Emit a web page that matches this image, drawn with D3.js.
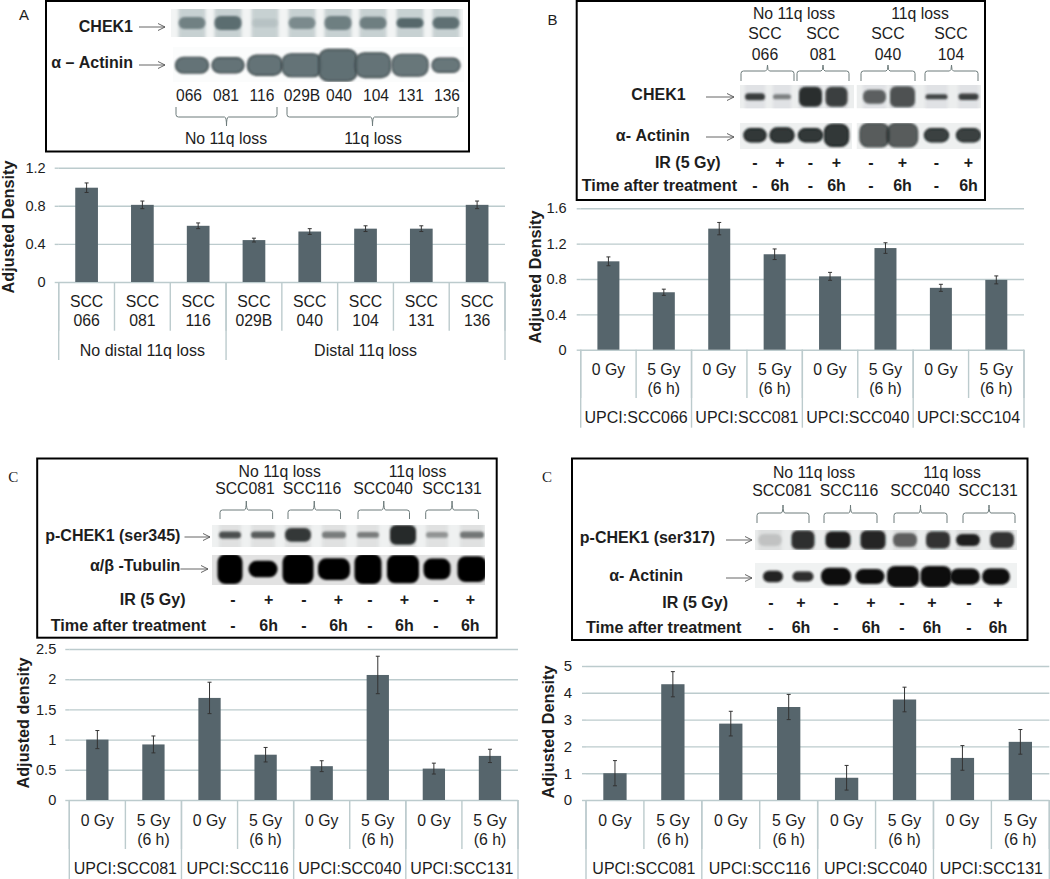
<!DOCTYPE html>
<html><head><meta charset="utf-8">
<script src="https://cdn.jsdelivr.net/npm/d3@7/dist/d3.min.js"></script>
<style>
html,body{margin:0;padding:0;background:#fff}
svg{display:block}
text{font-family:"Liberation Sans",Arial,sans-serif;fill:#1d1d1d}
</style></head><body>
<svg id="fig" width="1050" height="879"></svg>
<script>
// ---------- chart data ----------
const catsA=["SCC 066","SCC 081","SCC 116","SCC 029B","SCC 040","SCC 104","SCC 131","SCC 136"];
const groupsA=["No distal 11q loss","Distal 11q loss"];
const groupSizesA=[3,5];
const valuesA=[0.99,0.81,0.59,0.44,0.53,0.56,0.56,0.81];
const errorsA=[0.05,0.04,0.03,0.02,0.03,0.03,0.03,0.04];
const ticksA=[0,0.4,0.8,1.2];

const catsDose=["0 Gy","5 Gy (6 h)","0 Gy","5 Gy (6 h)","0 Gy","5 Gy (6 h)","0 Gy","5 Gy (6 h)"];
const groupSizesDose=[2,2,2,2];
const groupsB=["UPCI:SCC066","UPCI:SCC081","UPCI:SCC040","UPCI:SCC104"];
const valuesB=[1.0,0.65,1.37,1.08,0.83,1.15,0.70,0.79];
const errorsB=[0.05,0.035,0.07,0.06,0.045,0.06,0.04,0.045];
const ticksB=[0,0.4,0.8,1.2,1.6];

const groupsC=["UPCI:SCC081","UPCI:SCC116","UPCI:SCC040","UPCI:SCC131"];
const valuesC1=[1.0,0.92,1.69,0.75,0.56,2.07,0.52,0.73];
const errorsC1=[0.15,0.14,0.26,0.12,0.09,0.31,0.09,0.11];
const ticksC1=[0,0.5,1,1.5,2,2.5];
const valuesC2=[1.0,4.32,2.85,3.47,0.83,3.75,1.57,2.17];
const errorsC2=[0.47,0.47,0.46,0.47,0.46,0.46,0.46,0.46];
const ticksC2=[0,1,2,3,4,5];

// blot band darkness and relative height / width per lane
const blotA1Dark=[.7,.88,.12,.62,.72,.72,.92,.85];
const blotA1H=[.42,.5,.3,.42,.5,.45,.35,.42];
const blotA2Dark=[.95,.95,.95,.95,.97,.95,.92,.92];
const blotA2H=[.45,.43,.57,.65,.9,.7,.62,.4];
const blotA2W=[33,32,35,40,38,35,36,28];
const blotB1Dark=[.92,.55,1,.9,.72,.8,.88,.9];
const blotB1H=[.3,.22,.85,.85,.6,.9,.22,.28];
const blotB1W=[20,18,23,22,23,25,22,20];
const blotB2Dark=[1,1,1,1,.8,.8,.95,.95];
const blotB2H=[.5,.55,.5,.85,.9,.9,.5,.5];
const blotB2W=[22,24,24,24,29,30,24,24];
const blotC11Dark=[.8,.72,.92,.55,.55,1,.42,.58];
const blotC11H=[.32,.3,.62,.3,.26,.9,.26,.3];
const blotC11W=[22,24,26,24,22,26,22,24];
const blotC12Dark=[1,1,1,1,1,1,1,1];
const blotC12H=[1,.55,1,.72,1,.95,.7,.86];
const blotC12W=[25,29,31,32,27,32,27,29];
const blotC21Dark=[.14,.9,1,.95,.65,.88,.98,.88];
const blotC21H=[.6,.95,.85,.95,.7,.85,.6,.8];
const blotC21W=[24,23,25,25,24,24,24,24];
const blotC22Dark=[.9,.85,1,1,1,1,1,1];
const blotC22H=[.46,.4,.7,.6,.85,.85,.65,.65];
const blotC22W=[20,21,30,29,32,31,30,28];

const mk=["-","+","-","+","-","+","-","+"];
const tm=["-","6h","-","6h","-","6h","-","6h"];

// ---------- helpers ----------
const svg=d3.select("#fig");
const defs=svg.append("defs");
const blur=defs.append("filter").attr("id","soft").attr("x","-30%").attr("y","-60%").attr("width","160%").attr("height","220%");
blur.append("feGaussianBlur").attr("stdDeviation",1);
const blur2=defs.append("filter").attr("id","softer").attr("x","-30%").attr("y","-60%").attr("width","160%").attr("height","220%");
blur2.append("feGaussianBlur").attr("stdDeviation",1.8);
let clipN=0;

const GRID="#bccbcd", BAR="#56656c", ERR="#333", FS=15.8;

function chart(o){
  const g=svg.append("g");
  const y=d3.scaleLinear().domain([0,o.ticks[o.ticks.length-1]]).range([o.y0,o.y1]);
  const x=d3.scaleBand().domain(d3.range(o.cats.length)).range([o.x0,o.x1]);
  const ax=g.append("g").attr("transform",`translate(${o.x0},0)`)
    .call(d3.axisLeft(y).tickValues(o.ticks).tickSize(4).tickPadding(o.pad).tickFormat(d=>String(d)));
  ax.select(".domain").remove();
  ax.selectAll(".tick line").attr("stroke",GRID).attr("stroke-width",1.4);
  ax.selectAll(".tick").append("line").attr("x1",0).attr("x2",o.x1-o.x0).attr("stroke",GRID).attr("stroke-width",1.4);
  ax.selectAll("text").attr("font-size",o.tickSize||14.6).attr("fill","#1d1d1d").style("font-family",'"Liberation Sans"');
  const bot=o.yGroupEnd, mid=o.yTickEnd;
  g.selectAll(".sep").data(d3.range(o.cats.length+1)).join("line")
    .attr("x1",i=>o.x0+i*x.step()).attr("x2",i=>o.x0+i*x.step())
    .attr("y1",o.y0).attr("y2",mid).attr("stroke",GRID).attr("stroke-width",1.4);
  let c=0; const bounds=[0];
  o.groupSizes.forEach(s=>{c+=s;bounds.push(c);});
  g.selectAll(".gsep").data(bounds).join("line")
    .attr("x1",i=>o.x0+i*x.step()).attr("x2",i=>o.x0+i*x.step())
    .attr("y1",o.y0).attr("y2",bot).attr("stroke",GRID).attr("stroke-width",1.4);
  const bw=o.barW;
  g.selectAll(".bar").data(o.values).join("rect")
    .attr("x",(d,i)=>x(i)+x.bandwidth()/2-bw/2).attr("width",bw)
    .attr("y",d=>y(d)).attr("height",d=>y(0)-y(d)).attr("fill",BAR);
  const eb=g.selectAll(".eb").data(o.values).join("g")
    .attr("transform",(d,i)=>`translate(${x(i)+x.bandwidth()/2},0)`)
    .attr("stroke",ERR).attr("stroke-width",1);
  eb.append("line").attr("y1",(d,i)=>y(d-o.errors[i])).attr("y2",(d,i)=>y(d+o.errors[i]));
  eb.append("line").attr("x1",-2).attr("x2",2).attr("y1",(d,i)=>y(d-o.errors[i])).attr("y2",(d,i)=>y(d-o.errors[i]));
  eb.append("line").attr("x1",-2).attr("x2",2).attr("y1",(d,i)=>y(d+o.errors[i])).attr("y2",(d,i)=>y(d+o.errors[i]));
  const lab=g.selectAll(".cat").data(o.cats).join("text")
    .attr("text-anchor","middle").attr("font-size",FS)
    .attr("x",(d,i)=>x(i)+x.bandwidth()/2).attr("y",o.yLab1);
  lab.each(function(d){
    const t=d3.select(this),m=d.match(/^(.*?) (\(6 h\)|\d.*)$/);
    if(d==="0 Gy"||!m){t.text(d);return;}
    t.append("tspan").text(m[1]);
    t.append("tspan").attr("x",t.attr("x")).attr("dy",o.yLab2-o.yLab1).text(m[2]);
  });
  c=0;
  o.groups.forEach((name,k)=>{
    const a=c; c+=o.groupSizes[k];
    g.append("text").attr("text-anchor","middle").attr("font-size",16)
      .attr("x",o.x0+(a+c)/2*x.step()).attr("y",o.yGroup).text(name);
  });
  g.append("text").attr("transform",`translate(${o.titleX},${o.titleY}) rotate(-90)`)
    .attr("text-anchor","middle").attr("font-size",16.3).attr("font-weight","bold").text(o.title);
}

function txt(x,y,s,opt={}){
  const t=svg.append("text").attr("x",x).attr("y",y).text(s)
    .attr("font-size",opt.size||16).attr("text-anchor",opt.anchor||"middle");
  if(opt.bold)t.attr("font-weight","bold");
  if(opt.serif)t.style("font-family",'"Liberation Serif"');
  return t;
}
function frame(x0,y0,x1,y1){
  svg.append("rect").attr("x",x0).attr("y",y0).attr("width",x1-x0).attr("height",y1-y0)
    .attr("fill","none").attr("stroke","#000").attr("stroke-width",2);
}
function arrow(x0,x1,y){
  const p=d3.path();p.moveTo(x0,y);p.lineTo(x1,y);p.moveTo(x1-7,y-3.5);p.lineTo(x1,y);p.lineTo(x1-7,y+3.5);
  svg.append("path").attr("d",p.toString()).attr("fill","none").attr("stroke","#555").attr("stroke-width",.9);
}
function brace(x0,x1,yEdge,yBar,yTip){
  const dir=yEdge>yBar?1:-1, r=2.5, mx=(x0+x1)/2;
  const p=d3.path();
  p.moveTo(x0,yEdge);p.lineTo(x0,yBar+dir*r);p.quadraticCurveTo(x0,yBar,x0+r,yBar);
  p.lineTo(mx-2,yBar);p.quadraticCurveTo(mx,yBar,mx,yTip);p.quadraticCurveTo(mx,yBar,mx+2,yBar);
  p.lineTo(x1-r,yBar);p.quadraticCurveTo(x1,yBar,x1,yBar+dir*r);p.lineTo(x1,yEdge);
  svg.append("path").attr("d",p.toString()).attr("fill","none").attr("stroke","#6d7b7b").attr("stroke-width",1);
}
function blot(o){
  const id="clip"+(clipN++);
  const cp=defs.append("clipPath").attr("id",id);
  o.segs.forEach(s=>cp.append("rect").attr("x",s[0]).attr("y",o.y0).attr("width",s[1]-s[0]).attr("height",o.y1-o.y0));
  const g=svg.append("g").attr("clip-path",`url(#${id})`);
  const h=o.y1-o.y0, cy=o.y0+h*(o.c===undefined?.5:o.c);
  o.segs.forEach(s=>g.append("rect").attr("x",s[0]).attr("y",o.y0).attr("width",s[1]-s[0]).attr("height",h).attr("fill",o.bg));
  o.lanes.forEach((lx,i)=>{
    const w=o.ws?o.ws[i]:o.w;
    if(o.halo) g.append("rect").attr("x",lx-w/2).attr("width",w).attr("y",o.y0-3).attr("height",h+6)
      .attr("fill",o.haloColor||"#888").attr("opacity",o.halo).attr("filter","url(#softer)");
    const bh=h*o.h[i];
    const r=g.append("rect").attr("x",lx-w/2).attr("width",w).attr("y",cy-bh/2).attr("height",bh)
      .attr("rx",Math.min(bh/2,o.rx||6)).attr("fill",o.color).attr("opacity",o.dark[i]).attr("filter","url(#soft)");
    if(o.stroke) r.attr("stroke",o.stroke).attr("stroke-width",1.4);
  });
}
function marks(lanes,y1,y2){
  mk.forEach((m,i)=>txt(lanes[i],y1,m,{bold:true,size:16}));
  tm.forEach((m,i)=>txt(lanes[i],y2,m,{bold:true,size:16}));
}

// ---------- panel A ----------
frame(46,1,469,151.5);
txt(24,20,"A",{size:15});
txt(133,32,"CHEK1",{bold:true,anchor:"end"});
txt(133,68,"α – Actinin",{bold:true,anchor:"end"});
arrow(139,165,27);arrow(139,165,65);
const lanesA=[192,228,265,302,338,373,410,446];
blot({segs:[[171,463]],y0:9,y1:37,lanes:lanesA,w:27,dark:blotA1Dark,h:blotA1H,color:"#4e6064",bg:"#f2f4f4",halo:.62,haloColor:"#aebcbe",c:.5});
blot({segs:[[173,464]],y0:47,y1:82,lanes:lanesA,ws:blotA2W,dark:blotA2Dark,h:blotA2H,color:"#5b6c70",bg:"#fbfcfc",stroke:"#323d40",rx:9,c:.52});
[189,226,262,302,339,376,411,447].forEach((lx,i)=>txt(lx,101,["066","081","116","029B","040","104","131","136"][i],{size:15.6}));
brace(176,277,107,117,126);brace(287,458,107,117,126);
txt(226,144,"No 11q loss",{size:FS});txt(373,144,"11q loss",{size:FS});
chart({cats:catsA,groups:groupsA,groupSizes:groupSizesA,values:valuesA,errors:errorsA,ticks:ticksA,
  x0:58.7,x1:505,y0:282,y1:167.7,barW:22.7,pad:9,yTickEnd:330.7,yGroupEnd:360,yLab1:307,yLab2:326,yGroup:356,
  title:"Adjusted Density",titleX:14,titleY:227});

// ---------- panel B ----------
frame(576.7,1,985,200);
txt(552.5,25,"B",{size:15});
txt(794,19,"No 11q loss",{size:FS});txt(920,19,"11q loss",{size:FS});
[765,823,888,951].forEach((lx,i)=>{txt(lx,39,"SCC",{size:FS});txt(lx,60,["066","081","040","104"][i],{size:FS});});
[[741,794],[797,849],[861,915],[925,978]].forEach(b=>brace(b[0],b[1],81,71,65));
txt(685.6,100,"CHEK1",{bold:true,anchor:"end"});
txt(689.7,141,"α- Actinin",{bold:true,anchor:"end"});
arrow(706,734,97);arrow(706,734,137);
const lanesB=[755,782,810.5,836.5,874.5,902.5,936.5,968.5];
blot({segs:[[740,854],[856.5,981]],y0:85,y1:108.5,lanes:lanesB,ws:blotB1W,dark:blotB1Dark,h:blotB1H,color:"#2a2f2f",bg:"#eceeee",halo:.18,haloColor:"#aab",c:.5});
blot({segs:[[740,852],[856.5,981]],y0:123,y1:149,lanes:lanesB,ws:blotB2W,dark:blotB2Dark,h:blotB2H,color:"#303838",bg:"#eef0f0",stroke:"#151a1a",rx:8,c:.47});
txt(720.7,168,"IR (5 Gy)",{bold:true,anchor:"end"});
txt(581.7,191,"Time after treatment",{bold:true,anchor:"start",size:16.2});
marks([754.8,780,810.5,836.5,871,902.5,936.5,968.5],168,191);
chart({cats:catsDose,groups:groupsB,groupSizes:groupSizesDose,values:valuesB,errors:errorsB,ticks:ticksB,
  x0:580.7,x1:1024,y0:349.7,y1:208.3,barW:22,pad:10,yTickEnd:398,yGroupEnd:427.7,yLab1:375,yLab2:394,yGroup:423,
  title:"Adjusted Density",titleX:541,titleY:277});

// ---------- panel C left ----------
frame(37.2,458.5,496.7,637.7);
txt(13.2,482,"C",{size:15,serif:true});
txt(279.7,477,"No 11q loss",{size:FS});txt(417.6,477,"11q loss",{size:FS});
[245,312,383,452].forEach((lx,i)=>txt(lx,494,["SCC081","SCC116","SCC040","SCC131"][i],{size:FS}));
[[220,272.6],[288,340.5],[358,409.5],[425.7,478.4]].forEach(b=>brace(b[0],b[1],519,510,501));
txt(180.4,541,"p-CHEK1 (ser345)",{bold:true,anchor:"end"});
txt(180.4,571,"α/β -Tubulin",{bold:true,anchor:"end"});
arrow(184.5,210,537);arrow(180.4,208,569);
const lanesC1=[230,263,298,334,368,403,437,472];
blot({segs:[[212,485]],y0:525,y1:547,lanes:lanesC1,ws:blotC11W,dark:blotC11Dark,h:blotC11H,color:"#262b2b",bg:"#eff1f1",halo:.14,c:.45});
blot({segs:[[212,485]],y0:555,y1:585,lanes:lanesC1,ws:blotC12W,dark:blotC12Dark,h:blotC12H,color:"#050505",bg:"#e2e2e2",rx:8,c:.47});
txt(185.5,605,"IR (5 Gy)",{bold:true,anchor:"end"});
txt(50.7,631,"Time after treatment",{bold:true,anchor:"start",size:16.2});
marks([233,268.6,304,338.5,370,404.4,435.8,470.3],605,631);
chart({cats:catsDose,groups:groupsC,groupSizes:groupSizesDose,values:valuesC1,errors:errorsC1,ticks:ticksC1,
  x0:69.3,x1:518,y0:800,y1:649,barW:22.3,pad:9,yTickEnd:849,yGroupEnd:879,yLab1:825.7,yLab2:845,yGroup:874,
  title:"Adjusted density",titleX:29.4,titleY:723});

// ---------- panel C right ----------
frame(572,458.5,1027.5,640);
txt(547,482,"C",{size:15,serif:true});
txt(814,478,"No 11q loss",{size:FS});txt(952,478,"11q loss",{size:FS});
[782,849,920,988].forEach((lx,i)=>txt(lx,496,["SCC081","SCC116","SCC040","SCC131"][i],{size:FS}));
[[757,809],[824,877],[894,947],[963,1015]].forEach(b=>brace(b[0],b[1],523,513,505));
txt(715,543,"p-CHEK1 (ser317)",{bold:true,anchor:"end"});
txt(683,581,"α- Actinin",{bold:true,anchor:"end"});
arrow(726,752,540);arrow(726,752,578);
blot({segs:[[755,1017]],y0:530,y1:550,lanes:[770,803,838,873,905,938,968,1002],ws:blotC21W,dark:blotC21Dark,h:blotC21H,color:"#1b1f1f",bg:"#eaecec",halo:.12,c:.5});
blot({segs:[[755,1017]],y0:563,y1:588,lanes:[773,803,836,870,903,936,965,996],ws:blotC22W,dark:blotC22Dark,h:blotC22H,color:"#0b0b0b",bg:"#f0f2f2",rx:8,c:.54});
txt(728,608,"IR (5 Gy)",{bold:true,anchor:"end"});
txt(586,633,"Time after treatment",{bold:true,anchor:"start",size:16.2});
marks([771,801,836,871,902,932,969,998],608,633);
chart({cats:catsDose,groups:groupsC,groupSizes:groupSizesDose,values:valuesC2,errors:errorsC2,ticks:ticksC2,
  x0:586,x1:1049.3,y0:800,y1:666,barW:23.3,pad:10,tickSize:15,yTickEnd:849,yGroupEnd:879,yLab1:825.7,yLab2:845,yGroup:874,
  title:"Adjusted Density",titleX:554,titleY:732});
</script>
</body></html>
